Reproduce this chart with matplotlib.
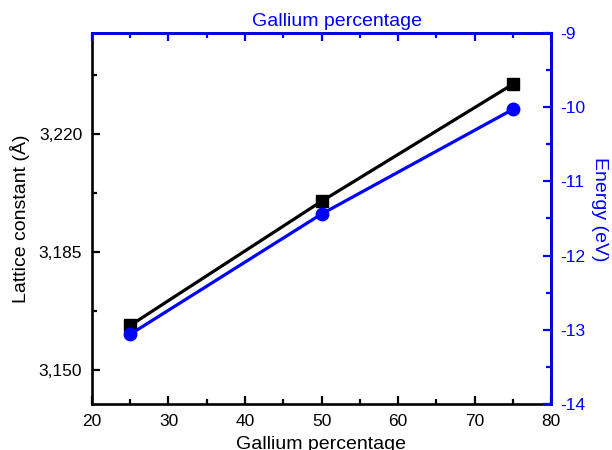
import matplotlib
matplotlib.use("Agg")
import matplotlib.pyplot as plt
from matplotlib.ticker import MultipleLocator, FuncFormatter

plt.rcParams['font.family'] = ['Liberation Sans', 'DejaVu Sans']
plt.rcParams['axes.unicode_minus'] = False

gallium = [25, 50, 75]
lattice = [3.1633, 3.2001, 3.2348]
energy = [-13.06, -11.44, -10.03]

BLUE = '#0000ff'
SW = 1.9

fig = plt.figure(figsize=(6.12, 4.5), dpi=100)
ax = fig.add_axes([92/612, 1 - 404/450, (551-92)/612, (404-33)/450])

ax.plot(gallium, lattice, color='black', lw=2.3, marker='s', ms=8.5, zorder=3)
ax.set_xlim(20, 80)
ax.set_ylim(3.140, 3.250)
ax.xaxis.set_major_locator(MultipleLocator(10))
ax.xaxis.set_minor_locator(MultipleLocator(5))
ax.set_yticks([3.150, 3.185, 3.220])
ax.set_yticks([3.1675, 3.2025, 3.2375], minor=True)
ax.yaxis.set_major_formatter(FuncFormatter(lambda v, p: f"{v:.3f}".replace('.', ',')))
ax.set_xlabel('Gallium percentage', fontsize=14, labelpad=5)
ax.set_ylabel('Lattice constant (Å)', fontsize=14, labelpad=6)
ax.tick_params(axis='both', which='major', direction='in', length=6, width=1.6, labelsize=12.5, pad=7,
               top=False, right=False)
ax.tick_params(axis='both', which='minor', direction='in', length=3.6, width=1.6, top=False, right=False)
for s in ax.spines.values():
    s.set_linewidth(SW)

ax2 = ax.twinx()
ax2.plot(gallium, energy, color=BLUE, lw=2.3, marker='o', ms=9, zorder=3)
ax2.set_ylim(-14, -9)
ax2.yaxis.set_major_locator(MultipleLocator(1))
ax2.yaxis.set_minor_locator(MultipleLocator(0.5))
ax2.set_ylabel('Energy (eV)', color=BLUE, fontsize=14, rotation=270, labelpad=16)
ax2.yaxis.set_label_coords(1.124, 0.526)
ax2.tick_params(axis='y', which='major', direction='in', length=6, width=1.6, labelsize=12.5, colors=BLUE, pad=7)
ax2.tick_params(axis='y', which='minor', direction='in', length=3.6, width=1.6, colors=BLUE)
ax2.spines['right'].set_color(BLUE)
ax2.spines['right'].set_linewidth(SW)
ax2.spines['top'].set_visible(False)
ax2.spines['left'].set_visible(False)
ax2.spines['bottom'].set_visible(False)

ax3 = ax.twiny()
ax3.set_xlim(20, 80)
ax3.xaxis.set_major_locator(MultipleLocator(10))
ax3.xaxis.set_minor_locator(MultipleLocator(5))
ax3.set_xlabel('Gallium percentage', color=BLUE, fontsize=14, labelpad=4)
ax3.xaxis.set_label_coords(0.534, 1.008)
ax3.xaxis.label.set_va('bottom')
ax3.tick_params(axis='x', which='major', direction='in', length=6, width=1.6, colors=BLUE, labeltop=False)
ax3.tick_params(axis='x', which='minor', direction='in', length=3.6, width=1.6, colors=BLUE)
ax3.spines['top'].set_color(BLUE)
ax3.spines['top'].set_linewidth(SW)
for k in ['left', 'right', 'bottom']:
    ax3.spines[k].set_visible(False)
ax3.tick_params(axis='y', which='both', left=False, right=False, labelleft=False, labelright=False)

fig.savefig('out.png', dpi=100)
